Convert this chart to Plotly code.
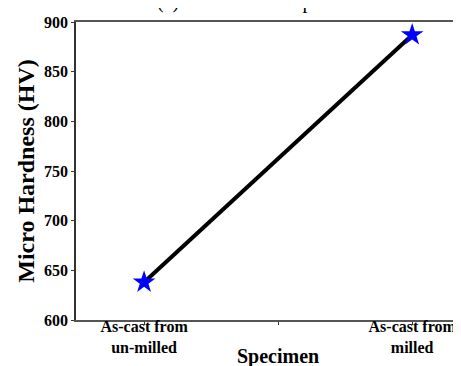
import plotly.graph_objects as go

specimens = ["As-cast from<br>un-milled", "As-cast from<br>milled"]
x_pos = [0, 1]
hardness = [638, 887]
y_ticks = [600, 650, 700, 750, 800, 850, 900]

fig = go.Figure()
fig.add_trace(go.Scatter(
    x=x_pos, y=hardness, mode="lines",
    line=dict(color="black", width=4), showlegend=False))
fig.add_trace(go.Scatter(
    x=x_pos, y=hardness, mode="markers",
    marker=dict(symbol="star", size=17, color="#0000FF", line=dict(width=0)),
    showlegend=False))

font_family = "Liberation Serif"
tick_font = dict(family=font_family, color="black", weight="bold")
fig.update_layout(
    width=461, height=366,
    margin=dict(l=68, r=0, t=14, b=54),
    paper_bgcolor="white", plot_bgcolor="white",
    font=dict(family=font_family, color="black"),
    xaxis=dict(
        range=[-0.254, 1.212],
        tickvals=[0, 0.5, 1],
        ticktext=[specimens[0], "", specimens[1]],
        ticks="outside", ticklen=3, tickcolor="#333",
        showline=True, linecolor="#555", linewidth=1.5, mirror=True,
        showgrid=False, zeroline=False,
        tickfont=dict(size=16, **tick_font),
        ticklabelstandoff=-12,
    ),
    yaxis=dict(
        range=[600, 900],
        tickvals=y_ticks,
        ticks="outside", ticklen=3, tickcolor="#333",
        showline=True, linecolor="#333", linewidth=1.5,
        showgrid=False, zeroline=False,
        tickfont=dict(size=16, **tick_font),
        title=dict(text="Micro Hardness (HV)", font=dict(family=font_family, size=24, weight="bold"), standoff=3),
    ),
    annotations=[
        dict(text="(a) Hardness Comparison", x=0.2, xanchor="left",
             xref="paper", yref="paper", y=1.0235, yanchor="bottom",
             showarrow=False, font=dict(family=font_family, size=20, color="black")),
        dict(text="Specimen", x=0.515, xanchor="center",
             xref="paper", yref="paper", y=-0.122, yanchor="middle",
             showarrow=False, font=dict(family=font_family, size=20, color="black", weight="bold")),
    ],
)
fig.write_html("out.html")
